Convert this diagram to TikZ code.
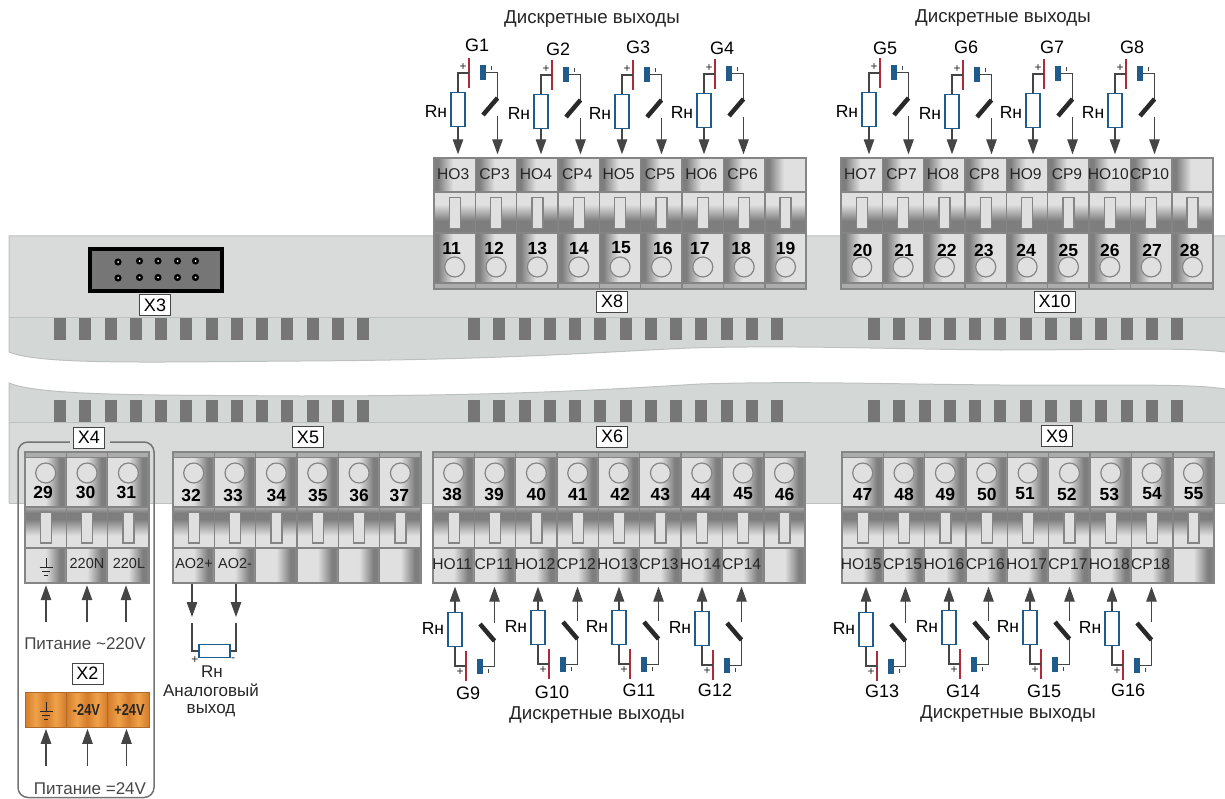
\documentclass[tikz,border=0pt]{standalone}
\usepackage{fontspec}
\setmainfont{Liberation Sans}
\usetikzlibrary{arrows.meta}

\definecolor{boardmain}{HTML}{D9DBDB}
\definecolor{boardstrip}{HTML}{D3D8D6}
\definecolor{boardedge}{HTML}{BDC0C0}
\definecolor{slotgray}{HTML}{767676}
\definecolor{celledge}{HTML}{858585}
\definecolor{celldark}{HTML}{7E7E7E}
\definecolor{cellmid}{HTML}{ACACAC}
\definecolor{celllight}{HTML}{E0E0E0}
\definecolor{wirecol}{HTML}{454545}
\definecolor{loadblue}{HTML}{1F5C8C}
\definecolor{platered}{HTML}{B02A3A}
\definecolor{orangedark}{HTML}{D27C2C}
\definecolor{orangelight}{HTML}{F0A24A}
\definecolor{textcol}{HTML}{262626}

\pgfdeclarehorizontalshading{shleft}{100bp}{color(0bp)=(celldark); color(25bp)=(celldark); color(30bp)=(celldark); color(48bp)=(celllight); color(100bp)=(celllight)}
\pgfdeclarehorizontalshading{shright}{100bp}{color(0bp)=(celllight); color(50bp)=(celllight); color(67bp)=(celldark); color(72bp)=(celldark); color(75bp)=(cellmid); color(100bp)=(cellmid)}
\pgfdeclareverticalshading{shmidup}{100bp}{color(0bp)=(celldark); color(36bp)=(celldark); color(40bp)=(celldark); color(60bp)=(celllight); color(100bp)=(celllight)}
\pgfdeclareverticalshading{shmiddown}{100bp}{color(0bp)=(celllight); color(40bp)=(celllight); color(60bp)=(celldark); color(68bp)=(celldark); color(75bp)=(cellmid); color(100bp)=(cellmid)}
\pgfdeclarehorizontalshading{shorange}{100bp}{color(0bp)=(orangedark); color(25bp)=(orangedark); color(38bp)=(orangelight); color(50bp)=(orangedark); color(62bp)=(orangelight); color(75bp)=(orangedark); color(100bp)=(orangedark)}

\tikzset{
  cellbox/.style={rectangle, draw=celledge, line width=1.4pt, inner sep=0pt, minimum width=41.35pt},
  labelcell/.style={cellbox, minimum height=35pt},
  midcell/.style={cellbox, minimum height=41pt},
  numcell/.style={cellbox, minimum height=49.5pt},
  bandcell/.style={cellbox, fill=cellmid, minimum height=6pt},
  orangecell/.style={rectangle, draw=orangedark!85!black, line width=.8pt, inner sep=0pt, minimum width=41.35pt, minimum height=35pt, shading=shorange},
  slotbox/.style={rectangle, draw=celledge, fill=celllight, line width=1.4pt, inner sep=0pt, minimum width=11pt, minimum height=31pt},
  screw/.style={circle, draw=celledge, fill=celllight, line width=1.2pt, inner sep=0pt, minimum size=20pt},
  numtext/.style={inner sep=0pt, font=\fontsize{17.5}{18}\selectfont\bfseries, text=black},
  celltext/.style={inner sep=0pt, font=\fontsize{15.6}{16}\selectfont, text=textcol},
  smalltext/.style={inner sep=0pt, font=\fontsize{14.5}{16}\selectfont, text=textcol},
  volttext/.style={inner sep=0pt, font=\fontsize{16}{16}\selectfont\bfseries, text=textcol},
  captext/.style={inner sep=0pt, font=\fontsize{17}{18}\selectfont, text=textcol},
  headtext/.style={inner sep=0pt, font=\fontsize{18.7}{20}\selectfont, text=textcol},
  gtext/.style={inner sep=0pt, font=\fontsize{18}{18}\selectfont, text=black},
  rtext/.style={inner sep=0pt, font=\fontsize{17.5}{18}\selectfont, text=black},
  signtext/.style={inner sep=0pt, font=\fontsize{12}{12}\selectfont, text=textcol},
  xlabel/.style={rectangle, draw=wirecol, fill=white, line width=.8pt, inner sep=0pt, minimum height=21pt, font=\fontsize{18}{18}\selectfont, text=black},
  loadres/.style={rectangle, draw=loadblue, fill=white, line width=1.9pt, inner sep=0pt, minimum width=14pt, minimum height=34pt},
  plate/.style={rectangle, fill=platered, inner sep=0pt, minimum width=1.8pt, minimum height=30pt},
  barbox/.style={rectangle, fill=loadblue, inner sep=0pt, minimum width=6pt, minimum height=15pt},
  tickbox/.style={rectangle, fill=wirecol, inner sep=0pt, minimum width=1pt, minimum height=4pt},
  wire/.style={draw=wirecol, line width=1.2pt},
  blade/.style={draw=wirecol!60!black, line width=4.5pt},
  arrowline/.style={draw=wirecol, fill=wirecol, line width=1.2pt, -{Triangle[width=10.5pt,length=15pt]}, shorten >=3pt}
}

\newcommand{\uppercell}[5]{%
  \node[labelcell, shading=shleft, minimum height=34pt] (l#2) at (#1,175) {};
  \node[midcell, shading=shmidup] (m#2) at (#1,212.5) {};
  \node[numcell, shading=shleft] (n#2) at (#1,258) {};
  \node[bandcell] (k#2) at (#1,286) {};
  \node[slotbox] (s#2) at (#1,213) {};
  \node[screw] (o#2) at (#1,267) {};
  \node[numtext] (d#2) at (#1+#3,#5) {#2};
  \node[celltext] (t#2) at (#1-1.5,174) {#4};
}
\newcommand{\lowercell}[5]{%
  \node[bandcell] (k#2) at (#1,455) {};
  \node[numcell, shading=shright] (n#2) at (#1,482.5) {};
  \node[midcell, shading=shmiddown] (m#2) at (#1,527.5) {};
  \node[labelcell, shading=shright] (l#2) at (#1,565.5) {};
  \node[slotbox] (s#2) at (#1,527.5) {};
  \node[screw] (o#2) at (#1,473) {};
  \node[numtext] (d#2) at (#1+#3,#5) {#2};
  \node[celltext] (t#2) at (#1-1.5,564) {#4};
}
\newcommand{\outunit}[6]{%
  \begin{scope}[shift={(#2,#3)}, yscale=#4]
    \coordinate (ra#1) at (0,0);
    \coordinate (rb#1) at (0,35);
    \node[loadres] (r#1) at (0,17.5) {};
    \node[plate] (p#1) at (11,-19) {};
    \node[barbox] (b#1) at (25,-19.5) {};
    \node[signtext] (plus#1) at (5,-25) {+};
    \node[tickbox] (tick#1) at (33,-24) {};
    \node[rtext] (rt#1) at (-22,19) {Rн};
    \coordinate (sw#1) at (39.5,6);
    \coordinate (se#1) at (25,23);
    \coordinate (so#1) at (39.5,24);
  \end{scope}
  \draw[wire] (ra#1) |- (p#1.center);
  \draw[wire] (b#1.east) -| (sw#1);
  \draw[blade] (sw#1) -- (se#1);
  \draw[arrowline] (rb#1) -- (rb#1 |- #5);
  \draw[arrowline] (so#1) -- (so#1 |- #6);
}
\newcommand{\groundsym}[2]{%
  \draw[textcol, line width=.9pt] (#1,#2-9) -- (#1,#2) (#1-6.5,#2) -- (#1+6.5,#2) (#1-4,#2+4) -- (#1+4,#2+4) (#1-2,#2+8) -- (#1+2,#2+8);
}

\begin{document}
\begin{tikzpicture}[x=1pt, y=-1pt]
\useasboundingbox (0,0) rectangle (1225,799);

\fill[boardstrip] (9,236) -- (1225,236) -- (1225,352) .. controls (1190,347) and (1100,350) .. (1000,350) .. controls (880,349) and (800,345) .. (690,348) .. controls (600,352) and (500,360) .. (300,361) .. controls (150,362) and (40,365) .. (9,352) -- cycle;
\fill[boardstrip] (9,383) .. controls (40,396) and (150,395) .. (300,396) .. controls (500,396) and (600,390) .. (700,384) .. controls (800,381) and (880,384) .. (1000,385) .. controls (1100,386) and (1190,383) .. (1225,389) -- (1225,503) -- (9,503) -- cycle;
\fill[boardmain] (9,236) rectangle (1225,318);
\fill[boardmain] (9,423) rectangle (1225,503);
\draw[boardedge, line width=1pt] (1225,236) -- (9,236) -- (9,352) .. controls (40,365) and (150,362) .. (300,361) .. controls (500,360) and (600,352) .. (690,348) .. controls (800,345) and (880,349) .. (1000,350) .. controls (1100,350) and (1190,347) .. (1225,352);
\draw[boardedge, line width=1pt] (9,503) -- (9,383) .. controls (40,396) and (150,395) .. (300,396) .. controls (500,396) and (600,390) .. (700,384) .. controls (800,381) and (880,384) .. (1000,385) .. controls (1100,386) and (1190,383) .. (1225,389);
\draw[boardedge, line width=1pt] (9,503) -- (1225,503);
\draw[boardedge, line width=1pt] (9,317.5) -- (1225,317.5) (9,422.5) -- (1225,422.5);

\foreach \g in {54,468,868}
  \foreach \s in {0,...,12} {
    \fill[slotgray] (\g+25.27*\s,318) rectangle +(12,22);
    \fill[slotgray] (\g+25.27*\s,400) rectangle +(12,22);
  }

\draw[black, fill=slotgray, line width=4pt] (90,249) rectangle (222,291);
\foreach \px/\py in {118/262,139.5/261,158/261,177.5/261,195.5/261,118/278,139.5/277.5,158/277.5,177.5/277.5,195.5/277.5} {
  \fill[black] (\px,\py) circle (3.6);
  \fill[white] (\px,\py) circle (1);
}
\node[xlabel, minimum width=31pt] (x3) at (155,305) {X3};

\draw[wirecol!75, line width=1.5pt, rounded corners=10pt] (18,442) rectangle (154,797.5);
\fill[boardmain] (70,440) rectangle (110,445);

\foreach \n/\dx/\lab [count=\i from 0] in {11/-3/HO3,12/-2/CP3,13/0/HO4,14/0/CP4,15/1/HO5,16/1.5/CP5,17/-3/HO6,18/-3/CP6,19/0/} {
  \pgfmathsetmacro{\cx}{454.7+41.35*\i}
  \uppercell{\cx}{\n}{\dx}{\lab}{248}
}
\foreach \n/\dx/\lab [count=\i from 0] in {20/1/HO7,21/1/CP7,22/2.5/HO8,23/-2/CP8,24/-1/HO9,25/0/CP9,26/0/HO10,27/1/CP10,28/-3/} {
  \pgfmathsetmacro{\cx}{861.7+41.35*\i}
  \uppercell{\cx}{\n}{\dx}{\lab}{250}
}
\foreach \n/\dx/\lab [count=\i from 0] in {29/-2.5/,30/-1.5/,31/-2/} {
  \pgfmathsetmacro{\cx}{45.7+41.35*\i}
  \lowercell{\cx}{\n}{\dx}{\lab}{492}
}
\foreach \n/\dx [count=\i from 0] in {32/-2.5,33/-2,34/0,35/0,36/0,37/-1} {
  \pgfmathsetmacro{\cx}{193.7+41.35*\i}
  \lowercell{\cx}{\n}{\dx}{}{495}
}
\foreach \n/\dx/\lab [count=\i from 0] in {38/-1.5/HO11,39/-1/CP11,40/0/HO12,41/0/CP12,42/1/HO13,43/0/CP13,44/-1/HO14,45/0/CP14,46/0/} {
  \pgfmathsetmacro{\cx}{453.7+41.35*\i}
  \lowercell{\cx}{\n}{\dx}{\lab}{494}
}
\foreach \n/\dx/\lab [count=\i from 0] in {47/0/HO15,48/0/CP15,49/0/HO16,50/0/CP16,51/-3/HO17,52/-2.5/CP17,53/-1.5/HO18,54/0/CP18,55/0/} {
  \pgfmathsetmacro{\cx}{862.7+41.35*\i}
  \lowercell{\cx}{\n}{\dx}{\lab}{494}
}

\node[smalltext] (tn) at (87,564) {220N};
\node[smalltext] (tl) at (129,564) {220L};
\node[smalltext] (tp) at (194,564) {AO2+};
\node[smalltext] (tm) at (235,564) {AO2-};
\groundsym{46}{567}

\foreach \n/\x/\y/\hc/\sc/\gx/\gy in {1/458/92/11/12/477/45,2/541/94/13/14/558/49,3/622/94/15/16/638/47,4/704/93/17/18/722/48,5/869/92/20/21/885/48,6/952/94/22/23/966/47,7/1033/93/24/25/1052/47,8/1115/93/26/27/1132/47} {
  \outunit{\n}{\x}{\y}{1}{l\hc.north}{l\sc.north}
  \node[gtext] (g\n) at (\gx,\gy) {G\n};
}
\foreach \n/\x/\y/\hc/\sc/\gx/\gy in {9/455/647/38/39/468/693,10/538/645/40/41/552/692,11/619/645/42/43/639/690,12/702/646/44/45/715/690,13/866/647/47/48/882/691,14/949/645/49/50/963/691,15/1030/645/51/52/1044/691,16/1112/646/53/54/1128/690} {
  \outunit{\n}{\x}{\y}{-1}{l\hc.south}{l\sc.south}
  \node[gtext] (g\n) at (\gx,\gy) {G\n};
}

\node[headtext] (c1) at (592,19.5) {Дискретные выходы};
\node[headtext] (c2) at (1003,18.5) {Дискретные выходы};
\node[headtext] (c3) at (597,715) {Дискретные выходы};
\node[headtext] (c4) at (1008,714) {Дискретные выходы};

\node[xlabel, minimum width=31pt] (x8) at (612,301.5) {X8};
\node[xlabel, minimum width=41pt] (x10) at (1054.5,301.5) {X10};
\node[xlabel, minimum width=31pt] (x4) at (89,437.5) {X4};
\node[xlabel, minimum width=31pt] (x5) at (308,437) {X5};
\node[xlabel, minimum width=31pt] (x6) at (612,436.5) {X6};
\node[xlabel, minimum width=31pt] (x9) at (1057,436) {X9};
\node[xlabel, minimum width=31pt] (x2) at (87.5,673.5) {X2};

\foreach \x/\n in {46/29,87/30,126/31} {
  \coordinate (pa\n) at (\x,622);
  \draw[arrowline, shorten >=1.5pt] (pa\n) -- (pa\n |- l\n.south);
}
\node[captext, text=wirecol] (pw220) at (85,644) {Питание \textasciitilde220V};

\node[orangecell] (or1) at (45.7,709.5) {};
\node[orangecell] (or2) at (87,709.5) {};
\node[orangecell] (or3) at (128.4,709.5) {};
\groundsym{46}{711}
\node[volttext] (v1) at (86.5,710) {\scalebox{.8}[1]{-24V}};
\node[volttext] (v2) at (129.5,710) {\scalebox{.8}[1]{+24V}};
\foreach \x/\n in {46/1,87.5/2,126.5/3} {
  \coordinate (pb\n) at (\x,766);
  \draw[arrowline, shorten >=1.5pt] (pb\n) -- (pb\n |- or\n.south);
}
\node[captext, text=wirecol] (pw24) at (90,788.5) {Питание =24V};

\node[loadres, minimum width=31pt, minimum height=13pt] (ra) at (214.5,651) {};
\coordinate (aa) at (192,623);
\coordinate (ab) at (236,623);
\coordinate (at) at (192,617);
\coordinate (au) at (236,617);
\draw[wire] (aa) |- (ra.west);
\draw[wire] (ab) |- (ra.east);
\draw[arrowline, shorten >=0pt] (at |- l32.south) -- (at);
\draw[arrowline, shorten >=0pt] (au |- l33.south) -- (au);
\node[signtext] (ap) at (195,660) {+};
\node[signtext] (am) at (233,660) {-};
\node[captext] (rn) at (212,672) {Rн};
\node[captext] (an1) at (211,690) {Аналоговый};
\node[captext] (an2) at (211,711) {выход};
\end{tikzpicture}
\end{document}
